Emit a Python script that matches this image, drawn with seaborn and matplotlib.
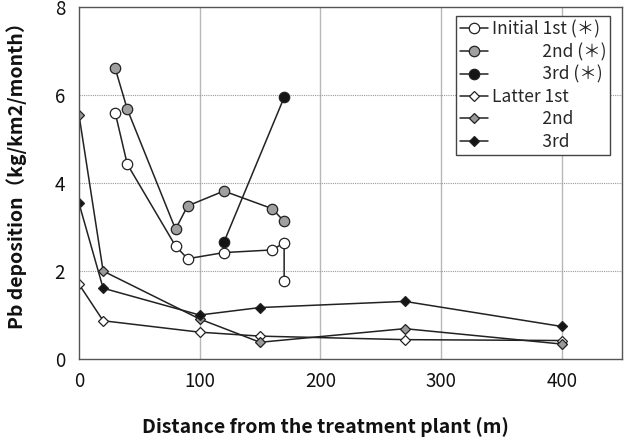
import matplotlib
matplotlib.use("Agg")
import matplotlib.pyplot as plt
from matplotlib.ticker import MultipleLocator
import seaborn as sns

# Initial campaign (*)
initial_x1 = [30, 40, 80, 90, 120, 160, 170, 170]
initial_1st = [5.60, 4.43, 2.57, 2.28, 2.42, 2.48, 2.64, 1.78]
initial_x2 = [30, 40, 80, 90, 120, 160, 170]
initial_2nd = [6.61, 5.68, 2.95, 3.48, 3.82, 3.42, 3.13]
initial_x3 = [120, 170]
initial_3rd = [2.65, 5.95]

# Latter campaign
latter_x = [0, 20, 100, 150, 270, 400]
latter_1st = [1.70, 0.87, 0.61, 0.52, 0.44, 0.42]
latter_2nd = [5.55, 2.00, 0.91, 0.38, 0.69, 0.34]
latter_3rd = [3.54, 1.61, 1.00, 1.17, 1.31, 0.74]

labels = ["Initial 1st (＊)", "             2nd (＊)", "             3rd (＊)",
          "Latter 1st", "             2nd", "             3rd"]

sns.set_style("white")
plt.rcParams["font.family"] = ["Noto Sans CJK JP", "DejaVu Sans"]

fig = plt.figure(figsize=(6.24, 4.37), dpi=100)
ax = fig.add_axes([0.1266, 0.1785, 0.8702, 0.805])

series = [
    (initial_x1, initial_1st, "o", "white", 7.5),
    (initial_x2, initial_2nd, "o", "#a0a0a0", 7.5),
    (initial_x3, initial_3rd, "o", "#151515", 7.5),
    (latter_x, latter_1st, "D", "white", 5.2),
    (latter_x, latter_2nd, "D", "#999999", 5.2),
    (latter_x, latter_3rd, "D", "#151515", 5.2),
]
for (xs, ys, mk, fc, ms), lab in zip(series, labels):
    sns.lineplot(x=xs, y=ys, ax=ax, sort=False, estimator=None, color="#222222",
                 linewidth=1.1, marker=mk, markersize=ms, markerfacecolor=fc,
                 markeredgecolor="#222222", markeredgewidth=0.9, label=lab)

ax.set_xlim(0, 450)
ax.set_ylim(0, 8)
ax.xaxis.set_major_locator(MultipleLocator(100))
ax.xaxis.set_minor_locator(MultipleLocator(20))
ax.yaxis.set_major_locator(MultipleLocator(2))
ax.yaxis.set_minor_locator(MultipleLocator(0.5))
ax.tick_params(which="both", direction="in", length=4, width=0.8, color="#555555",
               labelsize=13.5, labelcolor="#111111")
ax.tick_params(axis="x", pad=9)
ax.tick_params(axis="y", pad=10)

ax.grid(False)
for v in [100, 200, 300, 400]:
    ax.axvline(v, color="#b8b8b8", linewidth=1.0, zorder=0)
for h in [2, 4, 6]:
    ax.axhline(h, color="#999999", linewidth=0.8, linestyle=(0, (1, 1)), zorder=0)

for s in ax.spines.values():
    s.set_color("#555555")
    s.set_linewidth(1.0)

ax.set_xlabel("Distance from the treatment plant (m)", fontsize=14, fontweight="bold",
              color="#111111")
ax.set_ylabel("Pb deposition（kg/km2/month）", fontsize=14, fontweight="bold",
              color="#111111")
ax.xaxis.set_label_coords(0.453, -0.165)
ax.yaxis.set_label_coords(-0.095, 0.535)

leg = ax.legend(loc="upper right", bbox_to_anchor=(0.985, 0.985), fontsize=12.5,
                frameon=True, fancybox=False, edgecolor="#444444", framealpha=1,
                handlelength=1.6, handletextpad=0.2, borderpad=0.25, labelspacing=0.25,
                borderaxespad=0.2)
leg.get_frame().set_linewidth(1.0)

fig.savefig("out.png", dpi=100)
